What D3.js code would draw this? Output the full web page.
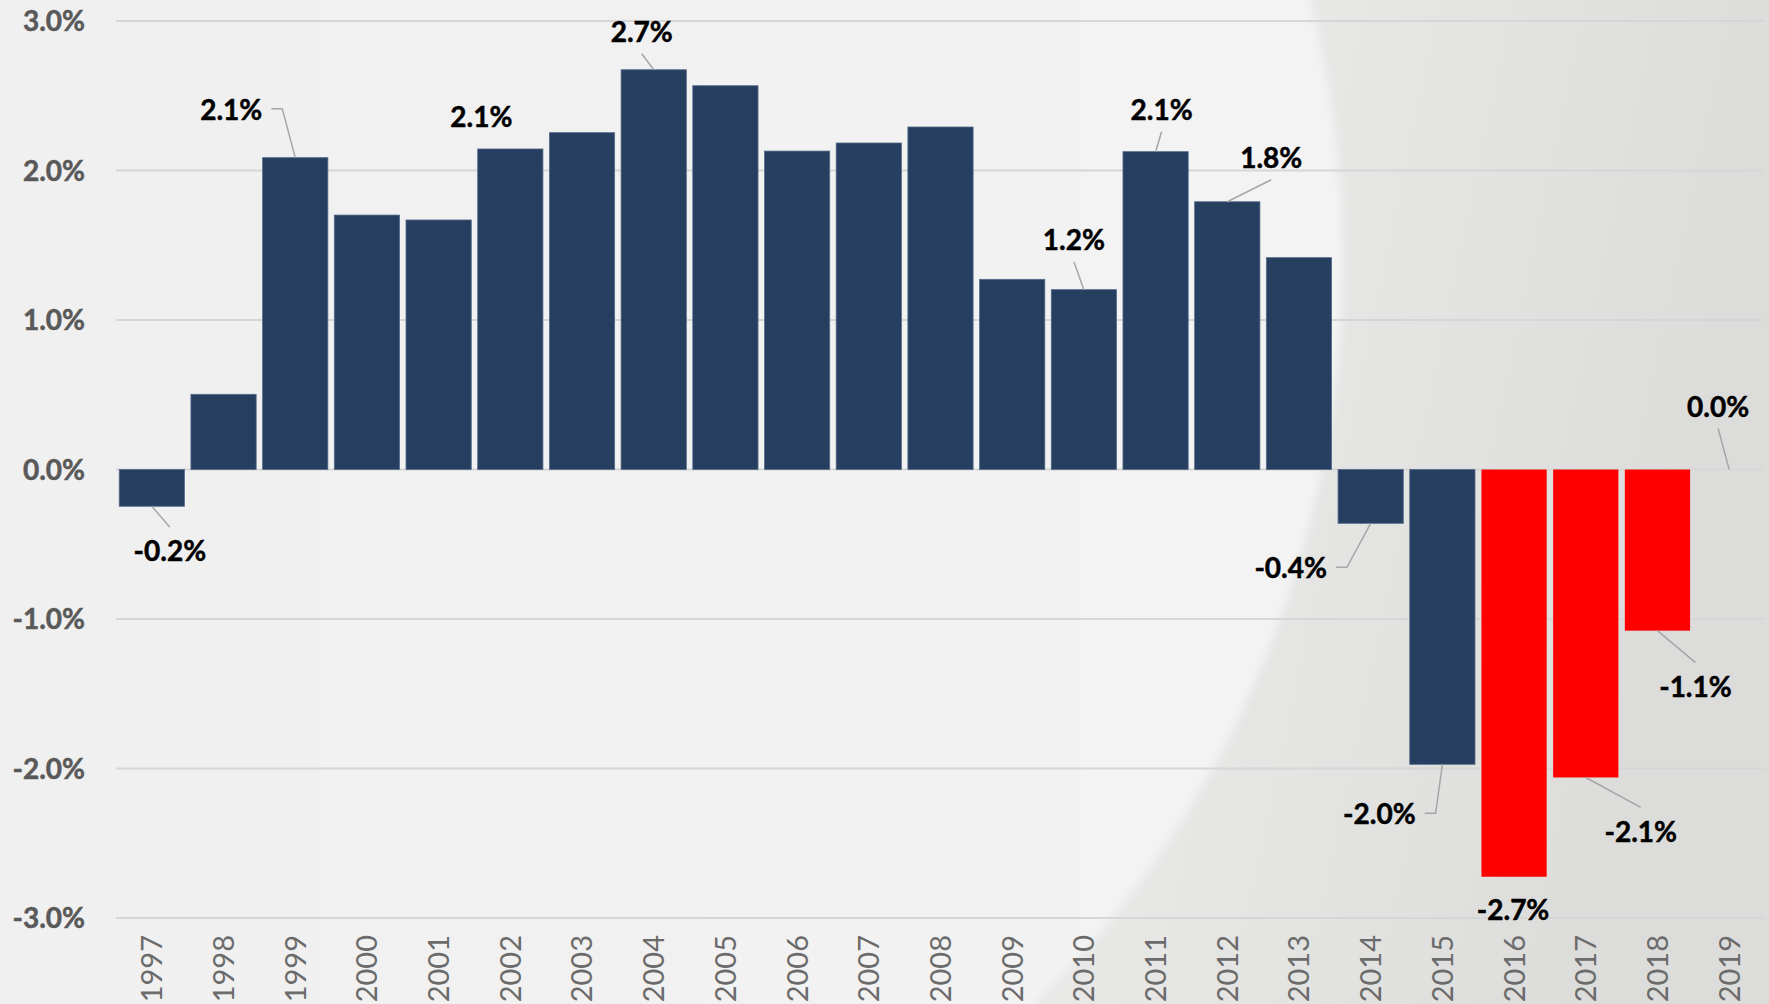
<!DOCTYPE html>
<html>
<head>
<meta charset="utf-8">
<script src="https://cdn.jsdelivr.net/npm/d3@7"></script>
<style>
  html, body { margin: 0; padding: 0; background: #eeeeee; }
  svg { display: block; }
  text { font-family: Lato, "Open Sans", sans-serif; }
</style>
</head>
<body>
<svg id="chart" width="1769" height="1004"></svg>
<script>
// Annual change, percent
const years = ['1997','1998','1999','2000','2001','2002','2003','2004','2005','2006','2007','2008',
               '2009','2010','2011','2012','2013','2014','2015','2016','2017','2018','2019'];
const change = [-0.246, 0.503, 2.086, 1.702, 1.669, 2.144, 2.253, 2.674, 2.567, 2.130, 2.184, 2.291,
                1.272, 1.203, 2.126, 1.791, 1.417, -0.360, -1.972, -2.724, -2.060, -1.078, 0.0];
const redYears = ['2016', '2017', '2018'];
const yTicks = [3, 2, 1, 0, -1, -2, -3];
const labelledYears = ['1997','1999','2002','2004','2010','2011','2012','2014','2015','2016','2017','2018','2019'];

// Placement of the value labels: offset of the label centre from the bar tip, and leader style
const labelLayout = {
  '1997': { dx: 18,  dy: 45,  leader: 'v' },
  '1999': { dx: -64, dy: -48, leader: 'h' },
  '2002': { dx: -29, dy: -32, leader: null },
  '2004': { dx: -12, dy: -38, leader: 'v' },
  '2010': { dx: -10, dy: -50, leader: 'v' },
  '2011': { dx: 6,   dy: -42, leader: 'v' },
  '2012': { dx: 44,  dy: -44, leader: 'v' },
  '2014': { dx: -80, dy: 45,  leader: 'h' },
  '2015': { dx: -63, dy: 50,  leader: 'h' },
  '2016': { dx: -1,  dy: 33,  leader: null },
  '2017': { dx: 55,  dy: 54,  leader: 'v' },
  '2018': { dx: 38,  dy: 56,  leader: 'v' },
  '2019': { dx: -11, dy: -63, leader: 'v' }
};

const W = 1769, H = 1004;
const plot = { left: 116, right: 1765, top: 21, bottom: 918 };
const navy = '#263f60', red = '#ff0000';
const labelSize = 28, capH = labelSize * 0.7165;

const locale = d3.formatLocale({ decimal: '.', thousands: ',', grouping: [3], currency: ['', ''], minus: '-' });
const pct = v => locale.format('.1f')(v) + '%';

const svg = d3.select('#chart');
const defs = svg.append('defs');

// Backdrop: grey sheen with a large soft light disc
const bgGrad = defs.append('linearGradient').attr('id', 'bgGrad')
  .attr('x1', '0').attr('y1', '0').attr('x2', '1').attr('y2', '0.12');
[['0', '#ececec'], ['0.55', '#ebebeb'], ['0.72', '#e8e8e7'], ['1', '#dcdcdb']]
  .forEach(([o, c]) => bgGrad.append('stop').attr('offset', o).attr('stop-color', c));
const discGrad = defs.append('linearGradient').attr('id', 'discGrad')
  .attr('x1', '0').attr('y1', '0').attr('x2', '1').attr('y2', '0');
[['0', '#ebebeb'], ['0.35', '#f0f0f0'], ['0.9', '#f3f3f3'], ['1', '#f3f3f3']]
  .forEach(([o, c]) => discGrad.append('stop').attr('offset', o).attr('stop-color', c));
defs.append('filter').attr('id', 'soft').attr('x', '-10%').attr('y', '-10%').attr('width', '120%').attr('height', '120%')
  .append('feGaussianBlur').attr('stdDeviation', 4);

svg.append('rect').attr('width', W).attr('height', H).attr('fill', 'url(#bgGrad)');
svg.append('circle').attr('cx', 296).attr('cy', 262).attr('r', 1047)
  .attr('fill', 'url(#discGrad)').attr('filter', 'url(#soft)');

const x = d3.scaleBand().domain(years).range([plot.left, plot.right])
  .paddingInner(0.09).paddingOuter(0.045);
const y = d3.scaleLinear().domain([-3, 3]).range([plot.bottom, plot.top]);

const data = years.map((yr, i) => ({ year: yr, value: change[i] }));

// Gridlines
svg.append('g').selectAll('line').data(yTicks).join('line')
  .attr('x1', plot.left).attr('x2', 1764)
  .attr('y1', d => y(d)).attr('y2', d => y(d))
  .attr('stroke', '#d6d6d6').attr('stroke-width', 2);

// Y axis labels
svg.append('g').selectAll('text').data(yTicks).join('text')
  .attr('x', 85).attr('y', d => y(d) + capH / 2)
  .attr('text-anchor', 'end')
  .attr('font-size', labelSize).attr('font-weight', 700).attr('fill', '#595959')
  .attr('stroke', '#595959').attr('stroke-width', 0.5)
  .text(d => pct(d));

// Bars
svg.append('g').selectAll('rect').data(data.filter(d => d.value !== 0)).join('rect')
  .attr('x', d => x(d.year))
  .attr('width', x.bandwidth())
  .attr('y', d => Math.min(y(d.value), y(0)))
  .attr('height', d => Math.abs(y(d.value) - y(0)))
  .attr('fill', d => redYears.includes(d.year) ? red : navy)
  .attr('stroke', d => redYears.includes(d.year) ? 'none' : '#556b8a')
  .attr('stroke-width', 0.8);

// X axis labels (rotated)
svg.append('g').selectAll('text').data(years).join('text')
  .attr('transform', d => `translate(${x(d) + x.bandwidth() / 2},935) rotate(-90)`)
  .attr('text-anchor', 'end').attr('dy', '0.36em')
  .attr('font-size', 29).attr('fill', '#6b6b6b')
  .text(d => d);

// Value labels with leader lines
const leaders = svg.append('g');
const labels = svg.append('g');
data.filter(d => labelledYears.includes(d.year)).forEach(d => {
  const lay = labelLayout[d.year];
  const tx = x(d.year) + x.bandwidth() / 2;
  const ty = y(d.value);
  const cx = tx + lay.dx, cy = ty + lay.dy;
  const t = labels.append('text')
    .attr('x', cx).attr('y', cy + capH / 2)
    .attr('text-anchor', 'middle')
    .attr('font-size', labelSize).attr('font-weight', 700).attr('fill', '#000')
    .attr('stroke', '#000').attr('stroke-width', 0.5)
    .text(pct(d.value));
  if (!lay.leader) return;
  let pts;
  if (lay.leader === 'h') {
    const sx = cx + t.node().getComputedTextLength() / 2 + 9;
    pts = [[sx, cy - 1], [sx + 11, cy - 1], [tx, ty]];
  } else {
    const sy = lay.dy < 0 ? cy + capH / 2 + 12 : cy - capH / 2 - 14;
    pts = [[cx, sy], [tx, ty]];
  }
  leaders.append('path')
    .attr('d', d3.line()(pts))
    .attr('fill', 'none').attr('stroke', '#a6a6a6').attr('stroke-width', 1.5);
});
</script>
</body>
</html>
